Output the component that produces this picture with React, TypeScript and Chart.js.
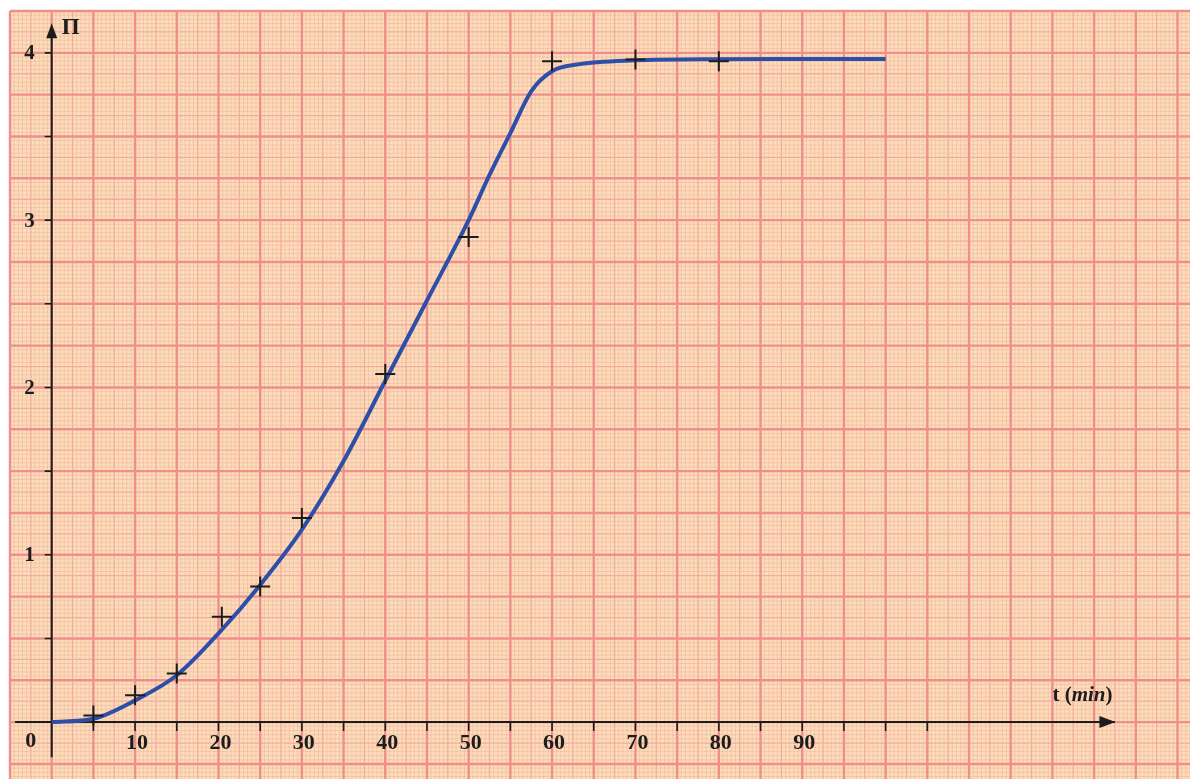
import React, { useEffect, useRef } from "react";
import { Chart, registerables } from "chart.js";

Chart.register(...registerables);

// Smooth fitted curve Π(t)
const CURVE_T = [0, 5, 10, 15, 20, 25, 30, 35, 40, 45, 50, 52.5, 55, 57.5, 60, 63, 70, 80, 90, 100];
const CURVE_PI = [0, 0.02, 0.13, 0.28, 0.53, 0.82, 1.15, 1.56, 2.04, 2.52, 3.0, 3.27, 3.52, 3.77, 3.89, 3.93, 3.955, 3.962, 3.963, 3.963];

// Measured points (+ markers)
const POINT_T = [5, 10, 15, 20.4, 25, 30, 40, 50, 60, 70, 80];
const POINT_PI = [0.04, 0.16, 0.29, 0.63, 0.81, 1.22, 2.08, 2.9, 3.95, 3.96, 3.95];

// Axis tick labels
const X_LABELS = [10, 20, 30, 40, 50, 60, 70, 80, 90];
const Y_LABELS = [1, 2, 3, 4];

const X_MIN = -5;
const X_MAX = 136.5;
const Y_MIN = -0.34;
const Y_MAX = 4.25;

const paperPlugin = {
  id: "paper",
  beforeDatasetsDraw(chart: any) {
    const { ctx, chartArea, scales } = chart;
    const xs = scales.x;
    const ys = scales.y;
    ctx.save();
    // paper
    ctx.fillStyle = "#FCDDBB";
    ctx.fillRect(chartArea.left, chartArea.top, chartArea.right - chartArea.left, chartArea.bottom - chartArea.top);

    const levels = [
      { color: "rgba(238,165,140,0.4)", width: 1, pick: (i: number) => i % 5 !== 0 },
      { color: "#F3ACA0", width: 1.3, pick: (i: number) => i % 5 === 0 && i % 10 !== 0 },
      { color: "#EE8F8B", width: 2.4, pick: (i: number) => i % 10 === 0 },
    ];
    for (const lv of levels) {
      ctx.strokeStyle = lv.color;
      ctx.lineWidth = lv.width;
      ctx.beginPath();
      // vertical lines every 0.5 min
      for (let i = Math.ceil(X_MIN / 0.5); i <= Math.floor(X_MAX / 0.5); i++) {
        if (!lv.pick(Math.abs(i))) continue;
        const px = xs.getPixelForValue(i * 0.5);
        ctx.moveTo(px, chartArea.top);
        ctx.lineTo(px, chartArea.bottom);
      }
      // horizontal lines every 0.025
      for (let j = Math.ceil(Y_MIN / 0.025); j <= Math.floor(Y_MAX / 0.025); j++) {
        if (!lv.pick(Math.abs(j))) continue;
        const py = ys.getPixelForValue(j * 0.025);
        ctx.moveTo(chartArea.left, py);
        ctx.lineTo(chartArea.right, py);
      }
      ctx.stroke();
    }

    // axes
    const x0 = xs.getPixelForValue(0);
    const y0 = ys.getPixelForValue(0);
    ctx.strokeStyle = "#1c1c1c";
    ctx.fillStyle = "#1c1c1c";
    ctx.lineWidth = 2;
    ctx.beginPath();
    ctx.moveTo(xs.getPixelForValue(-4.4), y0);
    ctx.lineTo(xs.getPixelForValue(127.5), y0);
    ctx.moveTo(x0, ys.getPixelForValue(-0.21));
    ctx.lineTo(x0, ys.getPixelForValue(4.1));
    ctx.stroke();
    // arrowheads
    const ax = xs.getPixelForValue(127.2);
    ctx.beginPath();
    ctx.moveTo(ax + 3, y0);
    ctx.lineTo(ax - 13, y0 - 6);
    ctx.lineTo(ax - 13, y0 + 6);
    ctx.closePath();
    ctx.fill();
    const ay = ys.getPixelForValue(4.177);
    ctx.beginPath();
    ctx.moveTo(x0, ay);
    ctx.lineTo(x0 - 5.5, ay + 15);
    ctx.lineTo(x0 + 5.5, ay + 15);
    ctx.closePath();
    ctx.fill();

    // ticks
    ctx.lineWidth = 1.6;
    ctx.beginPath();
    for (let t = 5; t <= 105; t += 5) {
      const px = xs.getPixelForValue(t);
      ctx.moveTo(px, y0);
      ctx.lineTo(px, y0 + 9);
    }
    for (let v = 0.5; v <= 4; v += 0.5) {
      const py = ys.getPixelForValue(v);
      ctx.moveTo(x0 - 7, py);
      ctx.lineTo(x0, py);
    }
    ctx.stroke();

    // labels
    ctx.font = 'bold 22px "Liberation Serif", "DejaVu Serif", serif';
    ctx.textAlign = "center";
    ctx.textBaseline = "middle";
    for (const v of X_LABELS) {
      ctx.fillText(String(v), xs.getPixelForValue(v) + 2, y0 + 21);
    }
    ctx.fillText("0", x0 - 21, y0 + 19);
    ctx.font = 'bold 21px "Liberation Serif", "DejaVu Serif", serif';
    ctx.textAlign = "right";
    for (const v of Y_LABELS) {
      ctx.fillText(String(v), x0 - 17, ys.getPixelForValue(v) + 1);
    }
    ctx.textAlign = "left";
    ctx.textBaseline = "alphabetic";
    ctx.font = 'bold 23px "Liberation Serif", "DejaVu Serif", serif';
    ctx.fillText("Π", x0 + 10, 34);

    // t (min)
    let tx = xs.getPixelForValue(120.0);
    const ty = y0 - 21;
    ctx.font = 'bold 21px "Liberation Serif", "DejaVu Serif", serif';
    ctx.fillText("t (", tx, ty);
    tx += ctx.measureText("t (").width;
    ctx.font = 'italic bold 21px "Liberation Serif", "DejaVu Serif", serif';
    ctx.fillText("min", tx, ty);
    tx += ctx.measureText("min").width;
    ctx.font = 'bold 21px "Liberation Serif", "DejaVu Serif", serif';
    ctx.fillText(")", tx, ty);
    ctx.restore();
  },
};

export default function App() {
  const ref = useRef<HTMLCanvasElement | null>(null);
  useEffect(() => {
    if (!ref.current) return;
    const curve = CURVE_T.map((t, i) => ({ x: t, y: CURVE_PI[i] }));
    const pts = POINT_T.map((t, i) => ({ x: t, y: POINT_PI[i] }));
    const chart = new Chart(ref.current, {
      type: "scatter",
      data: {
        datasets: [
          {
            label: "courbe",
            data: curve,
            showLine: true,
            borderColor: "#2D4FA9",
            borderWidth: 4,
            pointRadius: 0,
            cubicInterpolationMode: "monotone",
            order: 2,
          } as any,
          {
            label: "mesures",
            data: pts,
            pointStyle: "cross",
            pointRadius: 10,
            pointBorderWidth: 2,
            pointBorderColor: "#1c1c1c",
            pointBackgroundColor: "#1c1c1c",
            showLine: false,
            order: 1,
          } as any,
        ],
      },
      options: {
        responsive: false,
        animation: false,
        layout: { autoPadding: false, padding: { left: 10, top: 11, right: 0, bottom: 0 } },
        plugins: { legend: { display: false }, tooltip: { enabled: false } },
        scales: {
          x: { type: "linear", min: X_MIN, max: X_MAX, display: false },
          y: { type: "linear", min: Y_MIN, max: Y_MAX, display: false },
        },
      },
      plugins: [paperPlugin],
    });
    return () => chart.destroy();
  }, []);
  return (
    <canvas
      ref={ref}
      width={1190}
      height={779}
      style={{ position: "absolute", left: 0, top: 0, width: 1190, height: 779 }}
    />
  );
}
